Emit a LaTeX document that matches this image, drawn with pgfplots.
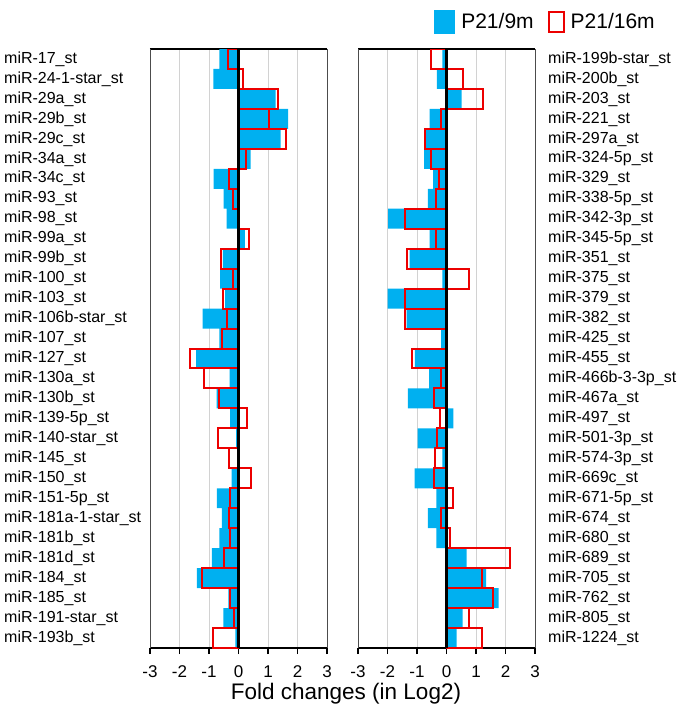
\documentclass[border=0pt]{standalone}
\usepackage{pgfplots}
\pgfplotsset{compat=1.18}
\usepackage{pgfplotstable}
\usepackage{fontspec}
\setmainfont{Liberation Sans}
\definecolor{blueC}{RGB}{0,176,240}
\definecolor{redC}{RGB}{236,0,0}
\pgfplotstableread{
i b r
1 -0.65 -0.35
2 -0.85 0.16
3 1.26 1.34
4 1.68 1.02
5 1.43 1.62
6 0.41 0.24
7 -0.84 -0.33
8 -0.50 -0.19
9 -0.40 0.00
10 0.22 0.35
11 -0.53 -0.61
12 -0.62 -0.19
13 -0.45 -0.51
14 -1.22 -0.40
15 -0.65 -0.56
16 -1.44 -1.64
17 -0.30 -1.18
18 -0.74 -0.67
19 -0.28 0.30
20 -0.08 -0.68
21 -0.05 -0.32
22 -0.23 0.43
23 -0.73 -0.28
24 -0.56 -0.33
25 -0.65 -0.28
26 -0.90 -0.48
27 -1.41 -1.25
28 -0.34 -0.28
29 -0.51 -0.14
30 -0.11 -0.88
}\lefttab
\pgfplotstableread{
i b r
1 -0.14 -0.52
2 -0.33 0.57
3 0.51 1.25
4 -0.57 -0.19
5 -0.76 -0.73
6 -0.76 -0.52
7 -0.45 -0.27
8 -0.63 -0.34
9 -1.98 -1.41
10 -0.57 -0.34
11 -1.25 -1.35
12 -0.14 0.77
13 -2.00 -1.39
14 -1.35 -1.39
15 -0.18 0.03
16 -1.07 -1.18
17 -0.59 -0.20
18 -1.31 -0.44
19 0.23 -0.23
20 -0.98 -0.31
21 -0.14 -0.39
22 -1.08 -0.42
23 -0.34 0.23
24 -0.63 -0.20
25 -0.34 0.12
26 0.68 2.14
27 1.34 1.20
28 1.77 1.57
29 0.55 0.77
30 0.34 1.20
}\righttab
\pgfplotsset{
  panel/.style={
    scale only axis, width=177pt, height=599pt,
    xmin=-3, xmax=3, ymin=0.5, ymax=30.5, y dir=reverse,
    xtick={-3,-2,-1,0,1,2,3}, xticklabels={-3,-2,-1,0,1,2,3},
    xmajorgrids, grid style={gray!35, line width=0.8pt},
    ytick={1,...,30},
    ytick style={draw=none},
    xtick style={black, line width=1.2pt},
    tick align=outside, major tick length=6pt, xtick pos=bottom,
    separate axis lines,
    every outer x axis line/.append style={black, line width=1.4pt},
    every outer y axis line/.append style={gray!60!black, line width=0.9pt},
    xticklabel style={font=\fontsize{17}{20}\selectfont, yshift=-8pt},
    yticklabel style={font=\fontsize{16}{19}\selectfont, inner sep=0pt, anchor=west},
  }
}
\begin{document}
\begin{tikzpicture}
\useasboundingbox (0pt,0pt) rectangle (684pt,715pt);
\begin{axis}[panel, at={(150pt,67pt)}, anchor=south west,
  yticklabels={miR-17\_st,miR-24-1-star\_st,miR-29a\_st,miR-29b\_st,miR-29c\_st,miR-34a\_st,miR-34c\_st,miR-93\_st,miR-98\_st,miR-99a\_st,miR-99b\_st,miR-100\_st,miR-103\_st,miR-106b-star\_st,miR-107\_st,miR-127\_st,miR-130a\_st,miR-130b\_st,miR-139-5p\_st,miR-140-star\_st,miR-145\_st,miR-150\_st,miR-151-5p\_st,miR-181a-1-star\_st,miR-181b\_st,miR-181d\_st,miR-184\_st,miR-185\_st,miR-191-star\_st,miR-193b\_st},
  yticklabel style={xshift=-140pt}]
\addplot[xbar, bar width=1, bar shift=0pt, fill=blueC, draw=none] table[x=b, y=i] {\lefttab};
\addplot[xbar, bar width=1, bar shift=0pt, fill=none, draw=redC, line width=2pt] table[x=r, y=i] {\lefttab};
\addplot[black, line width=2.2pt] coordinates {(0,0.5) (0,30.5)};
\end{axis}
\begin{axis}[panel, at={(358pt,67pt)}, anchor=south west,
  yticklabel pos=right,
  yticklabels={miR-199b-star\_st,miR-200b\_st,miR-203\_st,miR-221\_st,miR-297a\_st,miR-324-5p\_st,miR-329\_st,miR-338-5p\_st,miR-342-3p\_st,miR-345-5p\_st,miR-351\_st,miR-375\_st,miR-379\_st,miR-382\_st,miR-425\_st,miR-455\_st,miR-466b-3-3p\_st,miR-467a\_st,miR-497\_st,miR-501-3p\_st,miR-574-3p\_st,miR-669c\_st,miR-671-5p\_st,miR-674\_st,miR-680\_st,miR-689\_st,miR-705\_st,miR-762\_st,miR-805\_st,miR-1224\_st},
  yticklabel style={xshift=7pt},
  legend columns=2,
  legend style={at={(0.43,1)}, anchor=south west, yshift=15pt, draw=none, fill=none,
    font=\fontsize{21}{24}\selectfont, inner sep=0pt,
    nodes={inner sep=0pt, inner xsep=6pt},
    /tikz/every even column/.append style={column sep=8pt}}]
\addplot[xbar, bar width=1, bar shift=0pt, fill=blueC, draw=none,
  legend image code/.code={\fill[blueC] (0pt,-12pt) rectangle (21pt,12pt);}] table[x=b, y=i] {\righttab};
\addlegendentry{P21/9m}
\addplot[xbar, bar width=1, bar shift=0pt, fill=none, draw=redC, line width=2pt,
  legend image code/.code={\draw[redC, line width=2pt] (1pt,-10pt) rectangle (16pt,10pt);}] table[x=r, y=i] {\righttab};
\addlegendentry{P21/16m}
\addplot[black, line width=2.2pt, forget plot] coordinates {(0,0.5) (0,30.5)};
\end{axis}
\node[font=\fontsize{22.5}{26}\selectfont] at (346pt,21pt) {Fold changes (in Log2)};
\end{tikzpicture}
\end{document}
